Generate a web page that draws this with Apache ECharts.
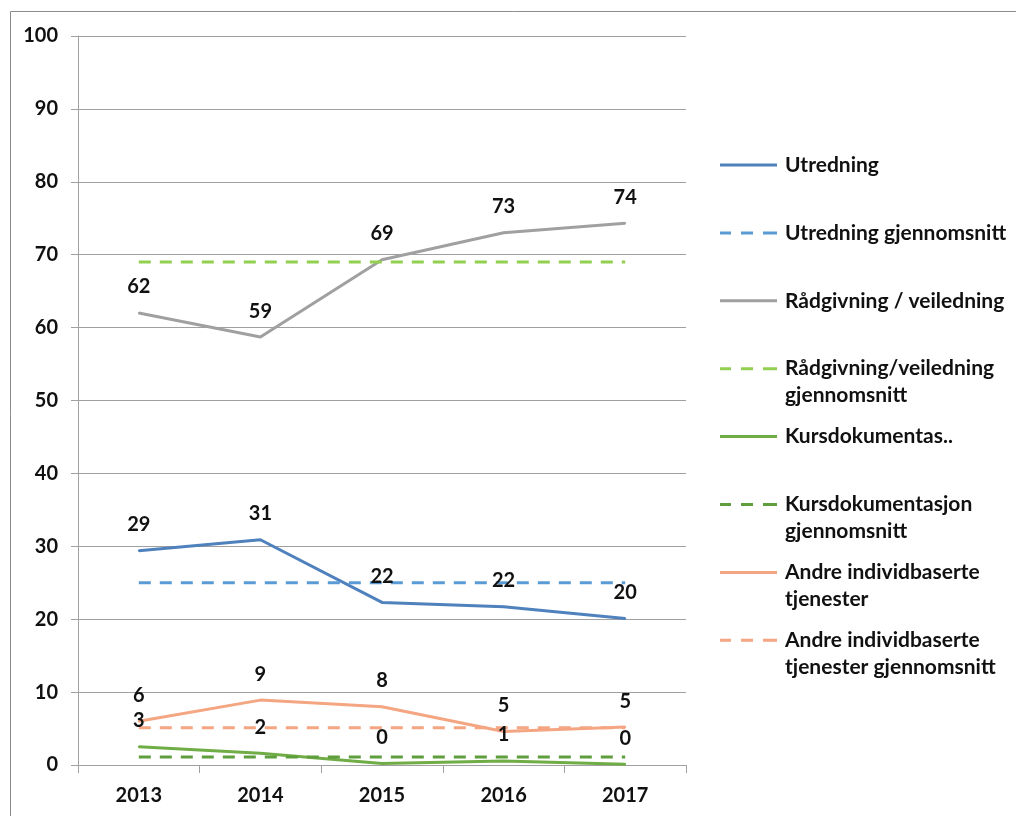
<!DOCTYPE html>
<html>
<head>
<meta charset="utf-8">
<script src="https://cdn.jsdelivr.net/npm/echarts@6/dist/echarts.min.js"></script>
<style>
  html, body { margin: 0; padding: 0; background: #fff; }
  #chart { width: 1016px; height: 816px; }
</style>
</head>
<body>
<div id="chart"></div>
<script>
// values
var years = ["2013", "2014", "2015", "2016", "2017"];
var utredning = [29.4, 30.9, 22.3, 21.7, 20.1];
var utredningAvg = [25, 25, 25, 25, 25];
var radgivning = [62.0, 58.7, 69.3, 73.0, 74.3];
var radgivningAvg = [69, 69, 69, 69, 69];
var kursdok = [2.5, 1.6, 0.2, 0.55, 0.1];
var kursdokAvg = [1.1, 1.1, 1.1, 1.1, 1.1];
var andre = [6.0, 8.9, 8.0, 4.6, 5.2];
var andreAvg = [5.1, 5.1, 5.1, 5.1, 5.1];

var seriesNames = [
  "Utredning",
  "Utredning gjennomsnitt",
  "Rådgivning / veiledning",
  "Rådgivning/veiledning\ngjennomsnitt",
  "Kursdokumentas..",
  "Kursdokumentasjon\ngjennomsnitt",
  "Andre individbaserte\ntjenester",
  "Andre individbaserte\ntjenester gjennomsnitt"
];

var FONT = "Lato";
var TXT = "#111";
var FS = 20;

var chart = echarts.init(document.getElementById("chart"), null, { renderer: "canvas" });

function lineSeries(name, data, color, dashed, labels) {
  return {
    name: name,
    type: "line",
    data: data,
    symbol: "circle",
    symbolSize: 2,
    showSymbol: !!labels,
    silent: true,
    animation: false,
    itemStyle: { color: color },
    lineStyle: {
      color: color,
      width: 3,
      type: dashed ? [12, 9] : "solid",
      cap: "butt"
    },
    label: {
      show: !!labels,
      position: "top",
      distance: 15,
      color: TXT,
      fontFamily: FONT,
      fontWeight: "bold",
      fontSize: FS,
      formatter: function (p) {
        return Math.round(p.value);
      }
    }
  };
}

var series = [
  lineSeries(seriesNames[0], utredning, "#4f81bd", false, true),
  lineSeries(seriesNames[1], utredningAvg, "#5b9bd5", true, false),
  lineSeries(seriesNames[2], radgivning, "#a0a0a0", false, true),
  lineSeries(seriesNames[3], radgivningAvg, "#92d050", true, false),
  lineSeries(seriesNames[4], kursdok, "#70ad47", false, true),
  lineSeries(seriesNames[5], kursdokAvg, "#5e9e3c", true, false),
  lineSeries(seriesNames[6], andre, "#f4a582", false, true),
  lineSeries(seriesNames[7], andreAvg, "#f4a582", true, false)
];

// legend icons: line at the first text line, spacer points keep the box height
function icon(dashed, twoLine) {
  var y0 = twoLine ? 12 : 0;
  var y1 = y0 + 3;
  var p;
  if (dashed) {
    p = "M0," + y0 + "H11V" + y1 + "H0Z M21," + y0 + "H33V" + y1 + "H21Z M43," + y0 + "H57V" + y1 + "H43Z";
  } else {
    p = "M0," + y0 + "H57V" + y1 + "H0Z";
  }
  if (twoLine) p += " M0,0L0,0 M0,54L0,54";
  return "path://" + p;
}

var legends = seriesNames.map(function (name, i) {
  var twoLine = name.indexOf("\n") >= 0;
  var dashed = i % 2 === 1;
  return {
    orient: "vertical",
    left: 720,
    top: 151.5 + i * 67.9,
    padding: 0,
    itemWidth: 57,
    itemHeight: twoLine ? 54 : 3,
    selectedMode: false,
    icon: icon(dashed, twoLine),
    itemStyle: { borderWidth: 0 },
    data: [name],
    textStyle: {
      color: TXT,
      fontFamily: FONT,
      fontWeight: "bold",
      fontSize: 21,
      lineHeight: 27,
      padding: [0, 0, 0, 3]
    }
  };
});

var option = {
  backgroundColor: "#fff",
  animation: false,
  legend: legends,
  grid: { left: 78, right: 330, top: 36, bottom: 51, containLabel: false },
  xAxis: {
    type: "category",
    data: years,
    boundaryGap: true,
    axisLine: { lineStyle: { color: "#a0a0a0", width: 1 } },
    axisTick: { show: true, length: 8, lineStyle: { color: "#a0a0a0" } },
    axisLabel: {
      color: TXT,
      fontFamily: FONT,
      fontWeight: "bold",
      fontSize: FS,
      margin: 21
    },
    splitLine: { show: false }
  },
  yAxis: {
    type: "value",
    min: 0,
    max: 100,
    interval: 10,
    axisLine: { show: true, lineStyle: { color: "#a0a0a0", width: 1 } },
    axisTick: { show: true, length: 7, lineStyle: { color: "#a0a0a0" } },
    axisLabel: {
      color: TXT,
      fontFamily: FONT,
      fontWeight: "bold",
      fontSize: FS,
      margin: 20
    },
    splitLine: { lineStyle: { color: "#a0a0a0", width: 1 } }
  },
  graphic: [
    {
      type: "rect",
      silent: true,
      shape: { x: 10.5, y: 11.5, width: 1100, height: 900 },
      style: { fill: "none", stroke: "#8c8c8c", lineWidth: 1 }
    }
  ],
  series: series
};

chart.setOption(option);
</script>
</body>
</html>
